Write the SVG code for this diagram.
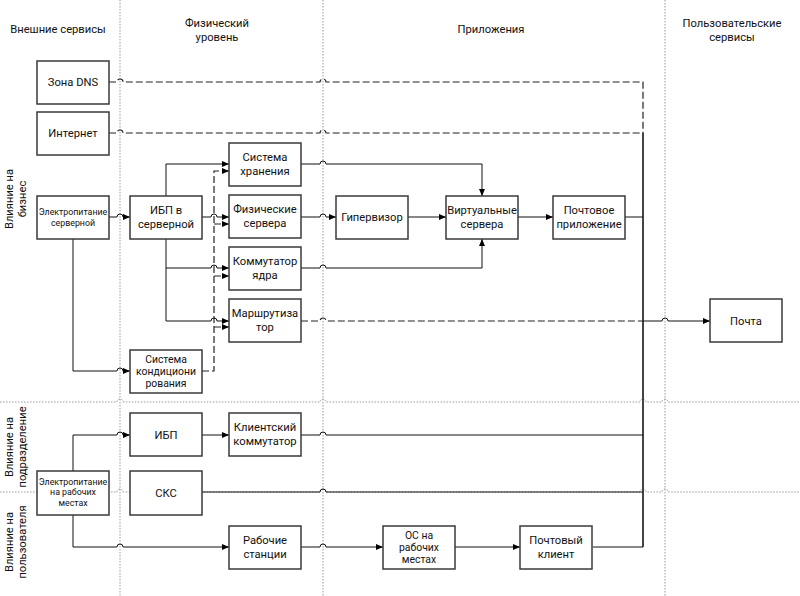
<svg xmlns="http://www.w3.org/2000/svg" width="800" height="596" viewBox="0 0 800 596">
<defs>
<marker id="arr" markerUnits="userSpaceOnUse" markerWidth="8" markerHeight="7" refX="7" refY="3.5" orient="auto">
<path d="M0,0.5 L7,3.5 L0,6.5 z" fill="#000"/>
</marker>
</defs>
<style>
text{font-family:Roboto,"Open Sans","Noto Sans",sans-serif;font-size:11.2px;fill:#111;text-anchor:middle}
.sm{font-size:8.8px}
.t3{font-size:10.4px}
.box{fill:#fff;stroke:#3a3a3a;stroke-width:1.5}
.grid{fill:none;stroke:#9a9a9a;stroke-width:1;stroke-dasharray:1.5 1.5}
.c{fill:none;stroke:#111;stroke-width:1}
.d{fill:none;stroke:#222;stroke-width:1.2;stroke-dasharray:7 3}
.bus{fill:none;stroke:#444;stroke-width:2}
.a{marker-end:url(#arr)}
</style>
<rect width="800" height="596" fill="#fff"/>
<g id="grid">
<path class="grid" d="M120,0 V596 M323,0 V596 M665,0 V596"/>
<path class="grid" d="M0,402 H117 a3,3 0 0 1 6,0 H320 a3,3 0 0 1 6,0 H640 a3,3 0 0 1 6,0 H662 a3,3 0 0 1 6,0 H800"/>
<path class="grid" d="M0,492 H117 a3,3 0 0 1 6,0 H320 a3,3 0 0 1 6,0 H640 a3,3 0 0 1 6,0 H662 a3,3 0 0 1 6,0 H800"/>
</g>
<g id="headers">
<text x="58" y="33">Внешние сервисы</text>
<text x="217" y="27">Физический</text>
<text x="217" y="40.5">уровень</text>
<text x="491" y="33">Приложения</text>
<text x="732" y="27">Пользовательские</text>
<text x="732" y="40.5">сервисы</text>
<g transform="translate(0,199) rotate(-90)"><text x="0" y="12.5">Влияние на</text><text x="0" y="26">бизнес</text></g>
<g transform="translate(0,447) rotate(-90)"><text x="0" y="12.5">Влияние на</text><text x="0" y="26">подразделение</text></g>
<g transform="translate(0,542) rotate(-90)"><text x="0" y="12.5">Влияние на</text><text x="0" y="26">пользователя</text></g>
</g>
<g id="connectors">
<path class="d" d="M109,82 H117 a3,3 0 0 1 6,0 H320 a3,3 0 0 1 6,0 H643 V133"/>
<path class="d" d="M109,133 H117 a3,3 0 0 1 6,0 H320 a3,3 0 0 1 6,0 H643"/>
<path class="bus" d="M643,133 V547"/>
<path class="c a" d="M109,217 H117 a3,3 0 0 1 6,0 H130"/>
<path class="c a" d="M73,239 V371 H117 a3,3 0 0 1 6,0 H130"/>
<path class="c a" d="M166,196 V164 H229"/>
<path class="c a" d="M202,217 H211 a3,3 0 0 1 6,0 H229"/>
<path class="c a" d="M166,239 V321 H211 a3,3 0 0 1 6,0 H229"/>
<path class="c a" d="M166,268 H211 a3,3 0 0 1 6,0 H229"/>
<path class="d a" d="M202,371 H214 V171 H229"/>
<path class="d a" d="M214,224 H229"/>
<path class="d a" d="M214,276 H229"/>
<path class="d a" d="M214,327 H229"/>
<path class="c a" d="M301,164 H320 a3,3 0 0 1 6,0 H482 V196"/>
<path class="c a" d="M301,217 H320 a3,3 0 0 1 6,0 H336"/>
<path class="c a" d="M301,268 H320 a3,3 0 0 1 6,0 H482 V239"/>
<path class="c a" d="M408,217 H446"/>
<path class="c a" d="M518,217 H553"/>
<path class="c" d="M625,217 H643"/>
<path class="d" d="M301,321 H320 a3,3 0 0 1 6,0 H643"/>
<path class="c a" d="M643,321 H662 a3,3 0 0 1 6,0 H710"/>
<path class="c a" d="M73,471 V435 H117 a3,3 0 0 1 6,0 H130"/>
<path class="c a" d="M73,515 V547 H117 a3,3 0 0 1 6,0 H229"/>
<path class="c a" d="M202,435 H229"/>
<path class="c" d="M301,435 H320 a3,3 0 0 1 6,0 H643"/>
<path class="c" d="M202,492 H320 a3,3 0 0 1 6,0 H643"/>
<path class="c a" d="M301,547 H320 a3,3 0 0 1 6,0 H383"/>
<path class="c a" d="M455,547 H520"/>
<path class="c" d="M593,547 H643"/>
</g>
<g id="dns"><rect class="box" x="37" y="61" width="72" height="43"/><text x="73" y="86">Зона DNS</text></g>
<g id="internet"><rect class="box" x="37" y="112" width="72" height="43"/><text x="73" y="137">Интернет</text></g>
<g id="pwr-server"><rect class="box" x="37" y="196" width="72" height="43"/><text class="sm" x="73" y="215">Электропитание</text><text class="sm" x="73" y="225.5">серверной</text></g>
<g id="ups-server"><rect class="box" x="130" y="196" width="72" height="43"/><text x="166" y="214">ИБП в</text><text x="166" y="227.5">серверной</text></g>
<g id="storage"><rect class="box" x="229" y="143" width="72" height="43"/><text x="265" y="161">Система</text><text x="265" y="174.5">хранения</text></g>
<g id="phys"><rect class="box" x="229" y="195" width="72" height="43"/><text x="265" y="213">Физические</text><text x="265" y="226.5">сервера</text></g>
<g id="core-switch"><rect class="box" x="229" y="247" width="72" height="43"/><text x="265" y="265">Коммутатор</text><text x="265" y="278.5">ядра</text></g>
<g id="router"><rect class="box" x="229" y="299" width="72" height="43"/><text x="265" y="317">Маршрутиза</text><text x="265" y="330.5">тор</text></g>
<g id="cooling"><rect class="box" x="130" y="350" width="72" height="43"/><text class="t3" x="166" y="362.5">Система</text><text class="t3" x="166" y="374.8">кондициони</text><text class="t3" x="166" y="387.1">рования</text></g>
<g id="hypervisor"><rect class="box" x="336" y="196" width="72" height="43"/><text x="372" y="221">Гипервизор</text></g>
<g id="virtual"><rect class="box" x="446" y="196" width="72" height="43"/><text x="482" y="214">Виртуальные</text><text x="482" y="227.5">сервера</text></g>
<g id="mail-app"><rect class="box" x="553" y="196" width="72" height="43"/><text x="589" y="214">Почтовое</text><text x="589" y="227.5">приложение</text></g>
<g id="mail"><rect class="box" x="710" y="299" width="72" height="43"/><text x="746" y="325">Почта</text></g>
<g id="ups"><rect class="box" x="130" y="413" width="72" height="43"/><text x="166" y="439">ИБП</text></g>
<g id="client-switch"><rect class="box" x="229" y="413" width="72" height="43"/><text x="265" y="431">Клиентский</text><text x="265" y="444.5">коммутатор</text></g>
<g id="pwr-ws"><rect class="box" x="37" y="471" width="72" height="44"/><text class="sm" x="73" y="484.5">Электропитание</text><text class="sm" x="73" y="495">на рабочих</text><text class="sm" x="73" y="505.5">местах</text></g>
<g id="scs"><rect class="box" x="130" y="471" width="72" height="44"/><text x="166" y="497">СКС</text></g>
<g id="workstations"><rect class="box" x="229" y="526" width="72" height="43"/><text x="265" y="544">Рабочие</text><text x="265" y="557.5">станции</text></g>
<g id="os"><rect class="box" x="383" y="526" width="72" height="43"/><text class="t3" x="419" y="538.5">ОС на</text><text class="t3" x="419" y="550.8">рабочих</text><text class="t3" x="419" y="563.1">местах</text></g>
<g id="mail-client"><rect class="box" x="520" y="526" width="72" height="43"/><text x="556" y="544">Почтовый</text><text x="556" y="557.5">клиент</text></g>
</svg>
